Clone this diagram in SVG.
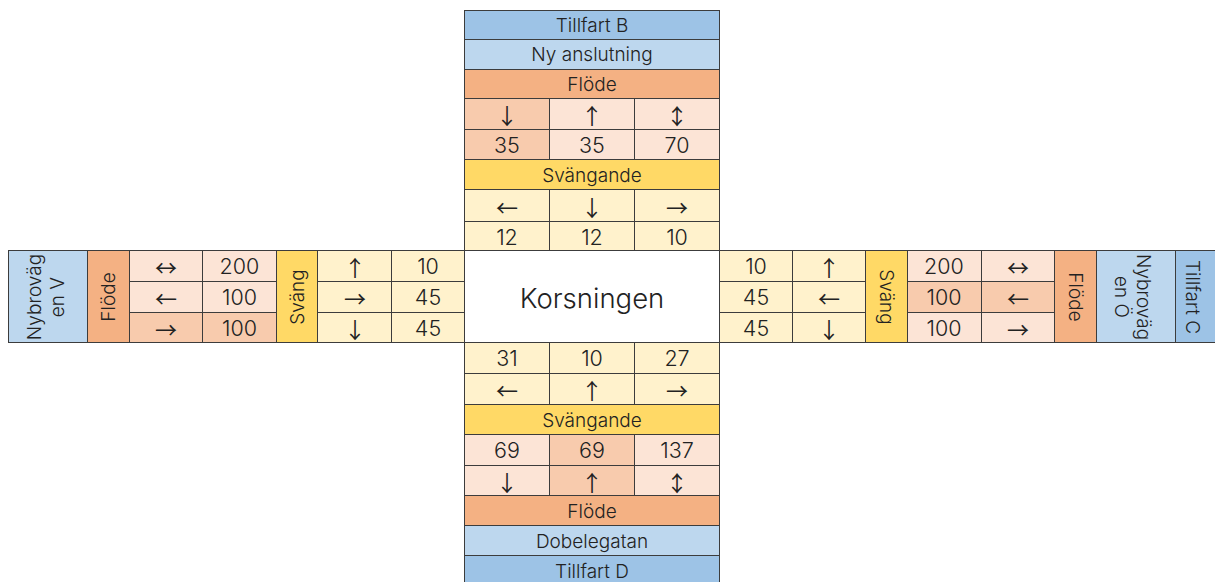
<svg xmlns="http://www.w3.org/2000/svg" width="1215" height="582" viewBox="0 0 1215 582">
<style>
rect{stroke:#3c3c3c;stroke-width:1}
.tf{fill:#9DC3E6}.rd{fill:#BDD7EE}.fl{fill:#F4B183}.lp{fill:#FCE4D6}.dp{fill:#F8CBAD}.sv{fill:#FFD966}.ly{fill:#FFF2CC}.wh{fill:#FFFFFF}
text{font-family:Inter,"Liberation Sans",Arial,sans-serif;font-weight:300;font-size:19px;fill:#222;text-anchor:middle;dominant-baseline:central}
.n{font-size:21.5px}
.ar{font-family:"Noto Sans CJK JP","DejaVu Sans",sans-serif;font-weight:400;font-size:22px}
.big{font-size:27.5px}
</style>
<rect x="0" y="0" width="1215" height="582" fill="#fff" style="stroke:none"/>

<g id="top">
<g id="tillfartB"><rect class="tf" x="464.5" y="10.5" width="255" height="29"/><text x="592" y="25">Tillfart B</text></g>
<g id="nyanslutning"><rect class="rd" x="464.5" y="39.5" width="255" height="30"/><text x="592" y="54.5">Ny anslutning</text></g>
<g id="flodeB"><rect class="fl" x="464.5" y="69.5" width="255" height="29"/><text x="592" y="84">Flöde</text></g>
<g id="flodeB-arrows">
<rect class="dp" x="464.5" y="98.5" width="85" height="31"/><text class="ar" x="507" y="114">↓</text>
<rect class="lp" x="549.5" y="98.5" width="85" height="31"/><text class="ar" x="592" y="114">↑</text>
<rect class="lp" x="634.5" y="98.5" width="85" height="31"/><text class="ar" x="677" y="114">↕</text>
</g>
<g id="flodeB-values">
<rect class="dp" x="464.5" y="129.5" width="85" height="30"/><text class="n" x="507" y="144.5">35</text>
<rect class="lp" x="549.5" y="129.5" width="85" height="30"/><text class="n" x="592" y="144.5">35</text>
<rect class="lp" x="634.5" y="129.5" width="85" height="30"/><text class="n" x="677" y="144.5">70</text>
</g>
<g id="svangB"><rect class="sv" x="464.5" y="159.5" width="255" height="30"/><text x="592" y="175">Svängande</text></g>
<g id="svangB-arrows">
<rect class="ly" x="464.5" y="189.5" width="85" height="32"/><text class="ar" x="507" y="206">←</text>
<rect class="ly" x="549.5" y="189.5" width="85" height="32"/><text class="ar" x="592" y="206">↓</text>
<rect class="ly" x="634.5" y="189.5" width="85" height="32"/><text class="ar" x="677" y="206">→</text>
</g>
<g id="svangB-values">
<rect class="ly" x="464.5" y="221.5" width="85" height="29"/><text class="n" x="507" y="236.5">12</text>
<rect class="ly" x="549.5" y="221.5" width="85" height="29"/><text class="n" x="592" y="236.5">12</text>
<rect class="ly" x="634.5" y="221.5" width="85" height="29"/><text class="n" x="677" y="236.5">10</text>
</g>
</g>

<g id="left">
<g id="nybrovagV"><rect class="rd" x="8.5" y="250.5" width="79" height="92"/>
<text transform="translate(34,297) rotate(-90)">Nybroväg</text>
<text transform="translate(57,297) rotate(-90)">en V</text></g>
<g id="flodeV"><rect class="fl" x="87.5" y="250.5" width="42" height="92"/><text transform="translate(108,297) rotate(-90)">Flöde</text></g>
<g id="flodeV-arrows">
<rect class="lp" x="129.5" y="250.5" width="73" height="31"/><text class="ar" x="166" y="266">↔</text>
<rect class="lp" x="129.5" y="281.5" width="73" height="31"/><text class="ar" x="166" y="297">←</text>
<rect class="dp" x="129.5" y="312.5" width="73" height="30"/><text class="ar" x="166" y="328">→</text>
</g>
<g id="flodeV-values">
<rect class="lp" x="202.5" y="250.5" width="74" height="31"/><text class="n" x="239.5" y="266">200</text>
<rect class="lp" x="202.5" y="281.5" width="74" height="31"/><text class="n" x="239.5" y="297">100</text>
<rect class="dp" x="202.5" y="312.5" width="74" height="30"/><text class="n" x="239.5" y="328">100</text>
</g>
<g id="svangV"><rect class="sv" x="276.5" y="250.5" width="41" height="92"/><text transform="translate(297,297) rotate(-90)">Sväng</text></g>
<g id="svangV-arrows">
<rect class="ly" x="317.5" y="250.5" width="74" height="31"/><text class="ar" x="355" y="266">↑</text>
<rect class="ly" x="317.5" y="281.5" width="74" height="31"/><text class="ar" x="355" y="297">→</text>
<rect class="ly" x="317.5" y="312.5" width="74" height="30"/><text class="ar" x="355" y="328">↓</text>
</g>
<g id="svangV-values">
<rect class="ly" x="391.5" y="250.5" width="73" height="31"/><text class="n" x="428" y="266">10</text>
<rect class="ly" x="391.5" y="281.5" width="73" height="31"/><text class="n" x="428" y="297">45</text>
<rect class="ly" x="391.5" y="312.5" width="73" height="30"/><text class="n" x="428" y="328">45</text>
</g>
</g>

<g id="korsningen"><rect class="wh" x="464.5" y="250.5" width="255" height="92"/><text class="big" x="592" y="298">Korsningen</text></g>

<g id="right">
<g id="svangO-values">
<rect class="ly" x="719.5" y="250.5" width="73" height="31"/><text class="n" x="756" y="266">10</text>
<rect class="ly" x="719.5" y="281.5" width="73" height="31"/><text class="n" x="756" y="297">45</text>
<rect class="ly" x="719.5" y="312.5" width="73" height="30"/><text class="n" x="756" y="328">45</text>
</g>
<g id="svangO-arrows">
<rect class="ly" x="792.5" y="250.5" width="73" height="31"/><text class="ar" x="829" y="266">↑</text>
<rect class="ly" x="792.5" y="281.5" width="73" height="31"/><text class="ar" x="829" y="297">←</text>
<rect class="ly" x="792.5" y="312.5" width="73" height="30"/><text class="ar" x="829" y="328">↓</text>
</g>
<g id="svangO"><rect class="sv" x="865.5" y="250.5" width="42" height="92"/><text transform="translate(886,297) rotate(90)">Sväng</text></g>
<g id="flodeO-values">
<rect class="lp" x="907.5" y="250.5" width="74" height="31"/><text class="n" x="944" y="266">200</text>
<rect class="dp" x="907.5" y="281.5" width="74" height="31"/><text class="n" x="944" y="297">100</text>
<rect class="lp" x="907.5" y="312.5" width="74" height="30"/><text class="n" x="944" y="328">100</text>
</g>
<g id="flodeO-arrows">
<rect class="lp" x="981.5" y="250.5" width="73" height="31"/><text class="ar" x="1018" y="266">↔</text>
<rect class="dp" x="981.5" y="281.5" width="73" height="31"/><text class="ar" x="1018" y="297">←</text>
<rect class="lp" x="981.5" y="312.5" width="73" height="30"/><text class="ar" x="1018" y="328">→</text>
</g>
<g id="flodeO"><rect class="fl" x="1054.5" y="250.5" width="42" height="92"/><text transform="translate(1075,297) rotate(90)">Flöde</text></g>
<g id="nybrovagO"><rect class="rd" x="1096.5" y="250.5" width="79" height="92"/>
<text transform="translate(1143,297) rotate(90)">Nybroväg</text>
<text transform="translate(1121,297) rotate(90)">en Ö</text></g>
<g id="tillfartC"><rect class="tf" x="1175.5" y="250.5" width="45" height="92"/><text transform="translate(1192,297) rotate(90)">Tillfart C</text></g>
</g>

<g id="bottom">
<g id="svangD-values">
<rect class="ly" x="464.5" y="342.5" width="85" height="31"/><text class="n" x="507" y="358">31</text>
<rect class="ly" x="549.5" y="342.5" width="85" height="31"/><text class="n" x="592" y="358">10</text>
<rect class="ly" x="634.5" y="342.5" width="85" height="31"/><text class="n" x="677" y="358">27</text>
</g>
<g id="svangD-arrows">
<rect class="ly" x="464.5" y="373.5" width="85" height="31"/><text class="ar" x="507" y="389">←</text>
<rect class="ly" x="549.5" y="373.5" width="85" height="31"/><text class="ar" x="592" y="389">↑</text>
<rect class="ly" x="634.5" y="373.5" width="85" height="31"/><text class="ar" x="677" y="389">→</text>
</g>
<g id="svangD"><rect class="sv" x="464.5" y="404.5" width="255" height="30"/><text x="592" y="420">Svängande</text></g>
<g id="flodeD-values">
<rect class="lp" x="464.5" y="434.5" width="85" height="31"/><text class="n" x="507" y="450">69</text>
<rect class="dp" x="549.5" y="434.5" width="85" height="31"/><text class="n" x="592" y="450">69</text>
<rect class="lp" x="634.5" y="434.5" width="85" height="31"/><text class="n" x="677" y="450">137</text>
</g>
<g id="flodeD-arrows">
<rect class="lp" x="464.5" y="465.5" width="85" height="30"/><text class="ar" x="507" y="481">↓</text>
<rect class="dp" x="549.5" y="465.5" width="85" height="30"/><text class="ar" x="592" y="481">↑</text>
<rect class="lp" x="634.5" y="465.5" width="85" height="30"/><text class="ar" x="677" y="481">↕</text>
</g>
<g id="flodeD"><rect class="fl" x="464.5" y="495.5" width="255" height="30"/><text x="592" y="511">Flöde</text></g>
<g id="dobelegatan"><rect class="rd" x="464.5" y="525.5" width="255" height="30"/><text x="592" y="541">Dobelegatan</text></g>
<g id="tillfartD"><rect class="tf" x="464.5" y="555.5" width="255" height="30"/><text x="592" y="571">Tillfart D</text></g>
</g>
</svg>
